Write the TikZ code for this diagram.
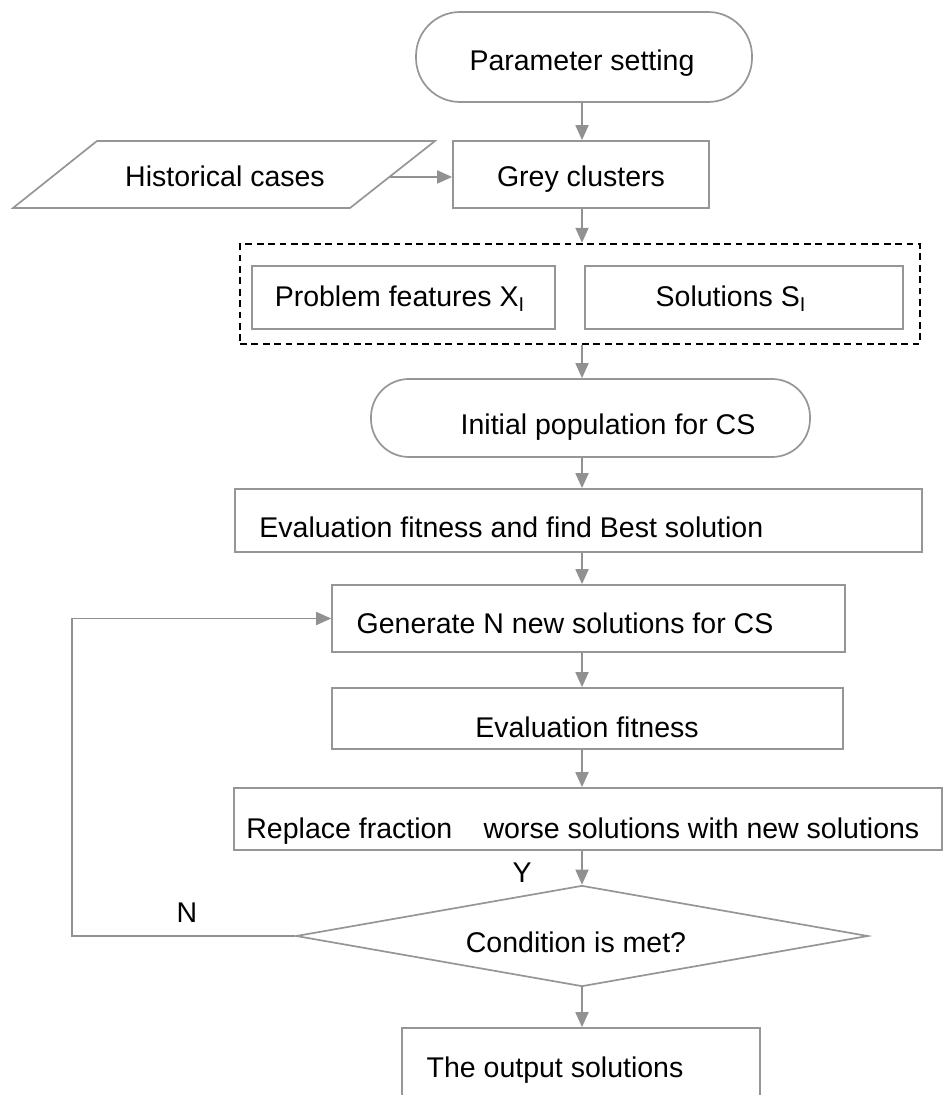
\documentclass[tikz,border=0pt]{standalone}
\usepackage{fontspec}
\setmainfont{Liberation Sans}
\usetikzlibrary{arrows.meta,shapes.geometric}
\definecolor{linegrey}{RGB}{150,150,150}
\definecolor{arrowgrey}{RGB}{145,145,145}
\begin{document}
\begin{tikzpicture}[x=0.5pt,y=-0.5pt,
  txt/.style={font=\fontsize{14.25pt}{17pt}\selectfont, text=black, inner sep=0pt, anchor=base},
  box/.style={draw=linegrey, line width=0.85pt, rectangle, inner sep=0pt},
  term/.style={box, rounded corners=#1},
  dbox/.style={draw=black, line width=1.2pt, dash pattern=on 3.4pt off 2.3pt, rectangle, inner sep=0pt},
  dia/.style={draw=linegrey, line width=0.85pt, diamond, inner sep=0pt, shape aspect=5},
  flow/.style={draw=arrowgrey, line width=0.9pt, -{Triangle[length=7.5pt,width=6.5pt]}},
]
\useasboundingbox (0,0) rectangle (945,1095);
\clip (0,0) rectangle (945,1095);
\fill[white] (0,0) rectangle (945,1095);
\coordinate (axis) at (582,0);
\coordinate (loop) at (72,0);

% shapes
\node[term=22pt, minimum width=168pt, minimum height=45pt] (param) at (584,57) {};
\node[box, minimum width=128pt, minimum height=33.5pt] (grey) at (581,174.5) {};
\draw[draw=linegrey, line width=0.85pt] (97,141) -- (435,141) -- (350,208) -- (13,208) -- cycle;
\coordinate (histR) at (389,177);
\node[dbox, minimum width=340pt, minimum height=50pt] (dash) at (580,294) {};
\node[box, minimum width=151.5pt, minimum height=31.5pt] (prob) at (403.5,297.5) {};
\node[box, minimum width=159pt, minimum height=31.5pt] (sol) at (744,297.5) {};
\node[term=19pt, minimum width=219.5pt, minimum height=39pt] (init) at (590.5,418) {};
\node[box, minimum width=343.5pt, minimum height=31.5pt] (evb) at (578.5,520.5) {};
\node[box, minimum width=256.5pt, minimum height=33.5pt] (gen) at (588.5,618.5) {};
\node[box, minimum width=255.5pt, minimum height=30.5pt] (evf) at (587.5,718.5) {};
\node[box, minimum width=354pt, minimum height=31pt] (rep) at (588,819) {};
\node[dia, minimum width=286pt, minimum height=50.5pt] (cond) at (582,936) {};
\node[box, minimum width=179pt, minimum height=41pt] (out) at (581,1069) {};

% texts
\node[txt] (tparam) at (582,71) {Parameter setting};
\node[txt] (tgrey) at (581,187) {Grey clusters};
\node[txt] (thist) at (225,187) {Historical cases};
\node[txt] (tprob) at (400,307) {Problem features X\textsubscript{I}};
\node[txt] (tsol) at (731,307) {Solutions S\textsubscript{I}};
\node[txt] (tinit) at (608,435) {Initial population for CS};
\node[txt, anchor=base west] (tevb) at (259,537) {Evaluation fitness and find Best solution};
\node[txt] (tgen) at (565,633) {Generate N new solutions for CS};
\node[txt] (tevf) at (587,737) {Evaluation fitness};
\node[txt, anchor=base west] (trep) at (246,838) {Replace fraction\hspace{1.1em}worse solutions with new solutions};
\node[txt] (tcond) at (576,952) {Condition is met?};
\node[txt] (tout) at (555,1077) {The output solutions};
\node[txt] (ty) at (522,882) {Y};
\node[txt] (tn) at (187,922) {N};

% connectors
\draw[flow] (param.south -| axis) -- (grey.north -| axis);
\draw[flow] (histR) -- (histR -| grey.west);
\draw[flow] (grey.south -| axis) -- (dash.north -| axis);
\draw[flow] (dash.south -| axis) -- (init.north -| axis);
\draw[flow] (init.south -| axis) -- (evb.north -| axis);
\draw[flow] (evb.south -| axis) -- (gen.north -| axis);
\draw[flow] (gen.south -| axis) -- (evf.north -| axis);
\draw[flow] (evf.south -| axis) -- (rep.north -| axis);
\draw[flow] (rep.south -| axis) -- (cond.north);
\draw[flow] (cond.south) -- (out.north -| axis);
\draw[flow] (cond.west) -- (cond.west -| loop) |- (gen.west);
\end{tikzpicture}
\end{document}
